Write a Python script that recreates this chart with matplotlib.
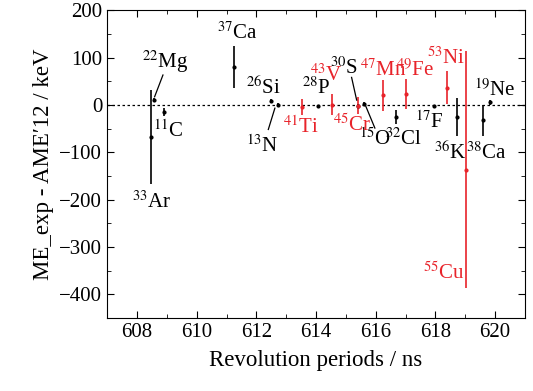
import matplotlib
matplotlib.use('Agg')
import matplotlib.pyplot as plt

plt.rcParams['font.family'] = 'Liberation Serif'
plt.rcParams['mathtext.fontset'] = 'stix'

# nuclide data: revolution period (ns), ME difference (keV), error (keV)
black_names = ['33Ar', '22Mg', '11C', '37Ca', '26Si', '13N', '28P', '30S', '15O',
               '32Cl', '17F', '36K', '38Ca', '19Ne']
black_T = [608.48, 608.56, 608.91, 611.26, 612.48, 612.73, 614.07, 615.42, 615.61,
           616.68, 617.94, 618.72, 619.59, 619.84]
black_dm = [-68, 10, -15, 80, 8, 0, -3, -2, 2, -25, -3, -26, -33, 5]
black_err = [100, 5, 8, 45, 4, 3, 3, 4, 3, 15, 3, 40, 33, 5]

red_names = ['41Ti', '43V', '45Cr', '47Mn', '49Fe', '53Ni', '55Cu']
red_T = [613.52, 614.52, 615.42, 616.23, 617.01, 618.38, 619.02]
red_dm = [-5, 0, -2, 20, 23, 36, -137]
red_err = [17, 22, 18, 32, 31, 35, 250]

# label positions (x, y) in data units
black_lab = {'33Ar': (608.5, -205), '22Mg': (608.93, 90), '11C': (609.05, -56),
             '37Ca': (611.36, 151), '26Si': (612.22, 35), '13N': (612.19, -88),
             '28P': (614.0, 35), '30S': (614.95, 78), '15O': (615.97, -73),
             '32Cl': (616.94, -73), '17F': (617.79, -36), '36K': (618.5, -101),
             '38Ca': (619.7, -101), '19Ne': (620.0, 31)}
red_lab = {'41Ti': (613.49, -48), '43V': (614.36, 63), '45Cr': (615.2, -42),
           '47Mn': (616.24, 73), '49Fe': (617.33, 73), '53Ni': (618.36, 98),
           '55Cu': (618.27, -356)}

# leader lines: (label end, point end)
leaders = [((608.87, 63), (608.59, 17)),
           ((612.4, -52), (612.62, -7)),
           ((615.19, 58), (615.36, 10)),
           ((615.97, -49), (615.66, -2))]


def fmt(name):
    num = ''.join(c for c in name if c.isdigit())
    sym = ''.join(c for c in name if not c.isdigit())
    return '$^{%s}$%s' % (num, sym)


fig = plt.figure(figsize=(5.33, 3.91), dpi=100)
ax = fig.add_axes([0.201, 0.187, 0.784, 0.787])

ax.axhline(0, color='black', ls=(0, (2, 2)), lw=0.9)

ax.errorbar(black_T, black_dm, yerr=black_err, fmt='o', ms=2, color='black',
            elinewidth=1.2, capsize=0)
ax.errorbar(red_T, red_dm, yerr=red_err, fmt='o', ms=2, color='#e8232a',
            elinewidth=1.2, capsize=0)

for n in black_names:
    x, y = black_lab[n]
    ax.text(x, y, fmt(n), ha='center', va='center', fontsize=15, color='black')
for n in red_names:
    x, y = red_lab[n]
    ax.text(x, y, fmt(n), ha='center', va='center', fontsize=15, color='#e8232a')

for (x0, y0), (x1, y1) in leaders:
    ax.plot([x0, x1], [y0, y1], color='black', lw=0.9)

ax.set_xlim(607, 621)
ax.set_ylim(-450, 200)
ax.set_xticks([608, 610, 612, 614, 616, 618, 620])
ax.set_xticks(range(607, 622), minor=True)
ax.set_yticks([-400, -300, -200, -100, 0, 100, 200])
ax.set_yticks(range(-450, 201, 50), minor=True)
ax.tick_params(which='both', direction='in', top=True, right=True, labelsize=15)
ax.tick_params(which='major', length=5)
ax.tick_params(which='minor', length=3)

ax.set_xlabel('Revolution periods / ns', fontsize=16.5, labelpad=6)
ax.set_ylabel("ME_exp - AME\u203212 / keV", fontsize=16.5, labelpad=4)

fig.savefig('out.png', dpi=100)
